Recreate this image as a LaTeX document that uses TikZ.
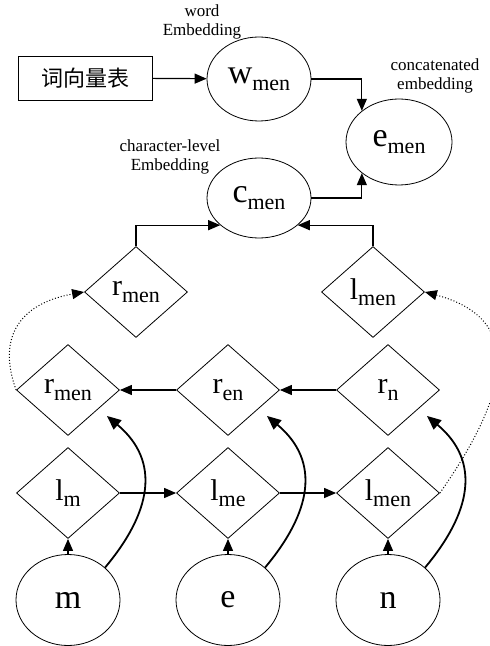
\documentclass[tikz,border=0pt]{standalone}
\usepackage{fontspec}
\setmainfont{Liberation Serif}
\newfontfamily\cjk{Noto Sans CJK SC}
\usetikzlibrary{shapes.geometric,arrows.meta}

\newcommand{\idx}[1]{\raisebox{-0.45ex}{\fontsize{11}{11}\selectfont #1}}

\begin{document}
\begin{tikzpicture}[x = 0.5pt, y = -0.5pt,
    oval/.style  = {draw, ellipse, inner sep = 0pt, minimum width = 52pt, minimum height = 42pt, font = \fontsize{17}{17}\selectfont},
    gate/.style  = {draw, diamond, inner sep = 0pt, minimum width = 51.5pt, minimum height = 45.5pt, font = \fontsize{15}{15}\selectfont},
    note/.style  = {align = center, font = \fontsize{8.5}{9.5}\selectfont},
    link/.style  = {-{Triangle[length = 6pt, width = 5pt]}, line width = 0.6pt},
    curl/.style  = {-{Triangle[length = 7pt, width = 6pt]}, line width = 0.9pt},
    hop/.style   = {-{Triangle[length = 6pt, width = 5pt]}, line width = 0.5pt, densely dotted}]
          \useasboundingbox (0,0) rectangle (489,646);

          % top part
          \node[draw, minimum width = 67pt, minimum height = 22pt, font = \cjk\fontsize{11}{11}\selectfont] at ( 85, 78) (table) {词向量表};
          \node[oval] at (259, 79) (w) {w\idx{men}};
          \node[oval, minimum width = 53pt, minimum height = 43pt] at (399,142) (e) {e\idx{men}};
          \node[oval, minimum height = 40pt] at (259,198) (c) {c\idx{men}};

          \node[note] at (202, 22) (wlabel) {word\\Embedding};
          \node[note] at (435, 76) (elabel) {concatenated\\embedding};
          \node[note] at (170,157) (clabel) {character-level\\Embedding};

          % diamonds
          \node[gate] at (136,292) (rtop) {r\idx{men}};
          \node[gate] at (373,292) (ltop) {l\idx{men}};

          \node[gate] at ( 68,390) (r1) {r\idx{men}};
          \node[gate] at (228,390) (r2) {r\idx{en}};
          \node[gate] at (388,390) (r3) {r\idx{n}};

          \node[gate] at ( 68,493) (l1) {l\idx{m}};
          \node[gate] at (228,493) (l2) {l\idx{me}};
          \node[gate] at (388,493) (l3) {l\idx{men}};

          % letters
          \node[oval, minimum height = 45.5pt] at ( 68,600) (m) {m};
          \node[oval, minimum height = 45.5pt] at (228,600) (ch) {e};
          \node[oval, minimum height = 45.5pt] at (388,600) (n) {n};

          \draw[link] (table) -- (w);
          \draw[link] (w.east) -| (e.140);
          \draw[link] (c.east) -| (e.220);
          \draw[link] (rtop.north) |- (c.215);
          \draw[link] (ltop.north) |- (c.-35);

          \draw[link] (r3) -- (r2);
          \draw[link] (r2) -- (r1);
          \draw[link] (l1) -- (l2);
          \draw[link] (l2) -- (l3);

          \draw[link] (m) -- (l1);
          \draw[link] (ch) -- (l2);
          \draw[link] (n) -- (l3);

          \draw[curl] (m.north east) to[out = 50, in = -40, looseness = 1.2] ([shift = {(6.5pt,-1.5pt)}]r1.south east);
          \draw[curl] (ch.north east) to[out = 50, in = -40, looseness = 1.2] ([shift = {(6.5pt,-1.5pt)}]r2.south east);
          \draw[curl] (n.north east) to[out = 50, in = -40, looseness = 1.2] ([shift = {(6.5pt,-1.5pt)}]r3.south east);

          \draw[hop] (r1.west) to[out = 110, in = 190, looseness = 1.3] (rtop.west);
          \draw[hop] (l3.east) to[out = 55, in = -15, looseness = 1.4] (ltop.east);
        \end{tikzpicture}
\end{document}
